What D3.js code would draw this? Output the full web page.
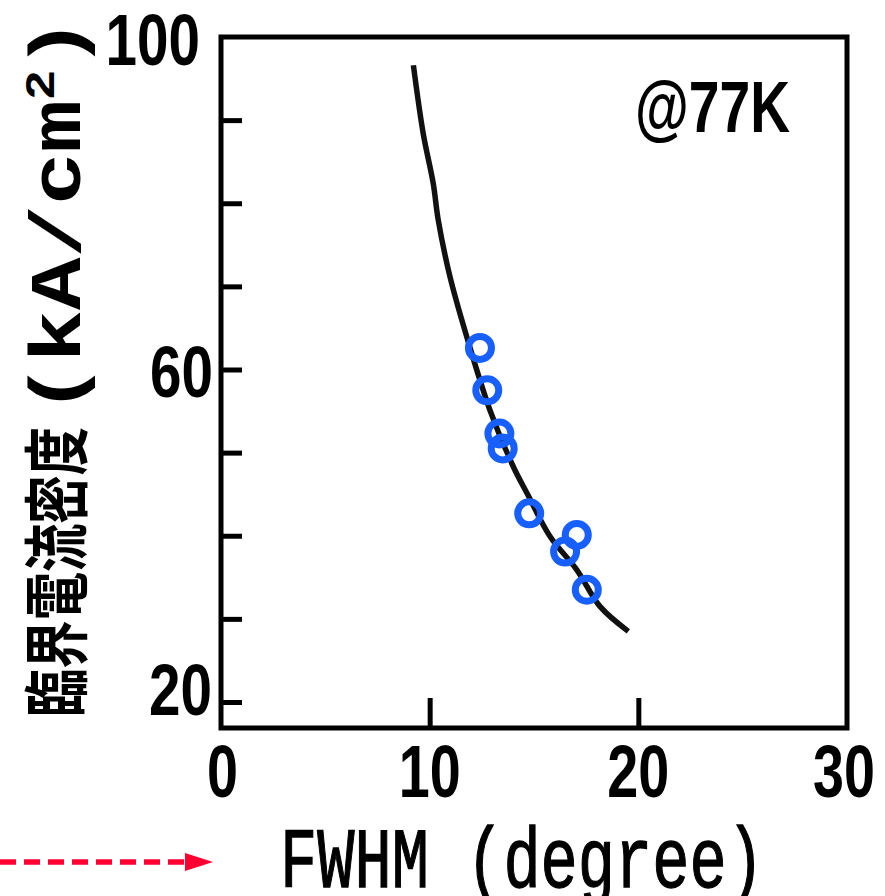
<!DOCTYPE html>
<html><head><meta charset="utf-8">
<script src="https://cdn.jsdelivr.net/npm/d3@7"></script>
<style>body{margin:0;background:#fff}svg{display:block}</style>
</head><body><svg id="c" width="885" height="896"></svg>
<script>
// measured data (FWHM in degree, Jc in kA/cm2)
const fwhm = [12.41, 12.76, 13.34, 13.50, 14.77, 17.05, 16.49, 17.53];
const jc   = [62.6, 57.5, 52.3, 50.5, 42.7, 40.1, 38.1, 33.5];
// fitted trend line
const fitX = [9.22, 9.69, 10.17, 10.41, 10.97, 11.77, 12.89, 14.01, 14.71, 15.77, 17.05, 18.16, 19.52];
const fitY = [96.6, 88.4, 82.4, 78.0, 71.2, 64.0, 55.1, 48.3, 44.9, 39.9, 35.9, 31.5, 28.5];
const xTickLabels = [0, 10, 20, 30];
const xInnerTicks = [10, 20];
const yMinorTicks = [20, 30, 40, 50, 60, 70, 80, 90];
const yTickLabels = [20, 60, 100];
const xTitle = "FWHM (degree)";
const yTitleJa = "臨界電流密度";
const yTitleUnit = "(kA/cm";
const note = "@77K";

const svg = d3.select("#c");
const x = d3.scaleLinear().domain([0, 30]).range([221, 847]);
const y = d3.scaleLinear().domain([16.87, 100]).range([728, 37]);

// inner ticks
const gy = svg.append("g").attr("transform", `translate(${x(0)},0)`)
  .call(d3.axisLeft(y).tickValues(yMinorTicks).tickSize(-21).tickFormat(""));
gy.select(".domain").remove();
gy.selectAll("line").attr("stroke", "#000").attr("stroke-width", 5);

const gx = svg.append("g").attr("transform", `translate(0,${y.range()[0]})`)
  .call(d3.axisBottom(x).tickValues(xInnerTicks).tickSize(-30).tickFormat(""));
gx.select(".domain").remove();
gx.selectAll("line").attr("stroke", "#000").attr("stroke-width", 5);

// frame
svg.append("rect")
  .attr("x", x(0)).attr("y", y(100))
  .attr("width", x(30) - x(0)).attr("height", y.range()[0] - y(100))
  .attr("fill", "none").attr("stroke", "#000").attr("stroke-width", 5);

// y tick labels
const yOff = {100: {dx: -21, dy: 28}, 60: {dx: -8, dy: 28}, 20: {dx: -9, dy: 13}};
svg.append("g").selectAll("text").data(yTickLabels).join("text")
  .attr("x", d => x(0) + yOff[d].dx)
  .attr("y", d => y(d) + yOff[d].dy)
  .attr("text-anchor", "end")
  .attr("font-family", "'Liberation Sans', Arial, sans-serif")
  .attr("font-weight", "bold").attr("font-size", 73)
  .attr("textLength", d => String(d).length * 31.5)
  .attr("lengthAdjust", "spacingAndGlyphs")
  .text(d => d);

// x tick labels
svg.append("g").selectAll("text").data(xTickLabels).join("text")
  .attr("x", d => x(d) + (d === 0 ? 1.5 : d === 30 ? -3 : 0))
  .attr("y", 797)
  .attr("text-anchor", "middle")
  .attr("font-family", "'Liberation Sans', Arial, sans-serif")
  .attr("font-weight", "bold").attr("font-size", 74)
  .attr("textLength", d => String(d).length * 31)
  .attr("lengthAdjust", "spacingAndGlyphs")
  .text(d => d);

// fit line
const fit = fitX.map((v, i) => [v, fitY[i]]);
svg.append("path").datum(fit)
  .attr("d", d3.line().x(d => x(d[0])).y(d => y(d[1])).curve(d3.curveCatmullRom))
  .attr("fill", "none").attr("stroke", "#111").attr("stroke-width", 5.5);

// data points
svg.append("g").selectAll("circle").data(fwhm.map((v, i) => [v, jc[i]])).join("circle")
  .attr("cx", d => x(d[0])).attr("cy", d => y(d[1])).attr("r", 11.5)
  .attr("fill", "none").attr("stroke", "#1760ff").attr("stroke-width", 7);

// @77K
svg.append("text").attr("x", 790).attr("y", 132).attr("text-anchor", "end")
  .attr("font-family", "'Liberation Sans', Arial, sans-serif")
  .attr("font-weight", "bold").attr("font-size", 72)
  .attr("textLength", 155).attr("lengthAdjust", "spacingAndGlyphs")
  .text(note);

// x title
svg.append("text").attr("x", 280).attr("y", 887).attr("text-anchor", "start")
  .attr("font-family", "'Liberation Mono', 'DejaVu Sans Mono', monospace")
  .attr("font-size", 85)
  .attr("stroke", "#000").attr("stroke-width", 1.3)
  .attr("textLength", 484).attr("lengthAdjust", "spacingAndGlyphs")
  .text(xTitle);

// y title (rotated)
svg.append("text")
  .attr("transform", "translate(81,572) rotate(-90)")
  .attr("text-anchor", "middle")
  .attr("font-family", "'Noto Sans CJK JP', sans-serif")
  .attr("font-weight", "bold").attr("font-size", 66)
  .attr("textLength", 290).attr("lengthAdjust", "spacingAndGlyphs")
  .text(yTitleJa);
const unit = svg.append("text")
  .attr("transform", "translate(80,415) rotate(-90)")
  .attr("text-anchor", "start")
  .attr("font-family", "'Liberation Mono', 'DejaVu Sans Mono', monospace")
  .attr("font-weight", "bold").attr("font-size", 72)
  .attr("textLength", 398).attr("lengthAdjust", "spacingAndGlyphs");
unit.append("tspan").text(yTitleUnit);
unit.append("tspan").attr("dy", -26).attr("font-size", 42).text("2");
unit.append("tspan").attr("dy", 26).text(")");

// red dashed arrow
svg.append("line").attr("x1", 0).attr("y1", 862).attr("x2", 186).attr("y2", 862)
  .attr("stroke", "#ff0033").attr("stroke-width", 5.5).attr("stroke-dasharray", "16,8");
svg.append("path").attr("d", "M185,853 L213,862 L185,871 Z").attr("fill", "#ff0033");
</script>
</body></html>
